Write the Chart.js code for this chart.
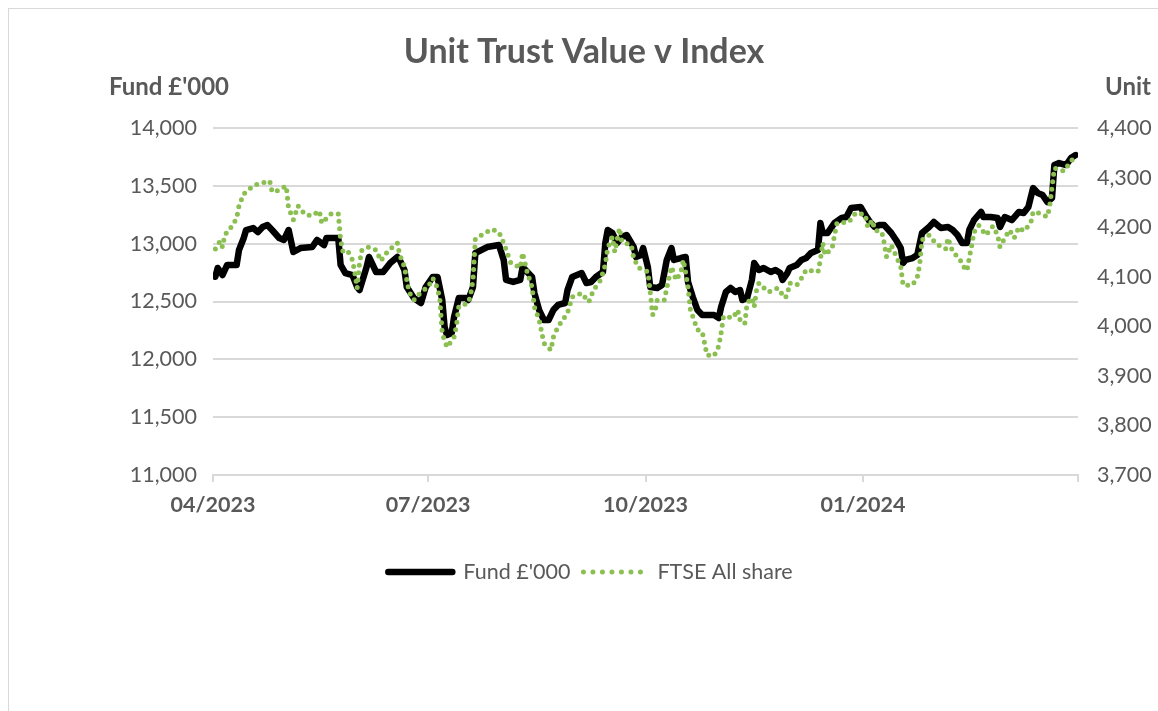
<!DOCTYPE html>
<html><head><meta charset="utf-8">
<script src="https://cdn.jsdelivr.net/npm/chart.js@4.4.1/dist/chart.umd.min.js"></script>
<style>
html,body{margin:0;padding:0;background:#fff;}
#wrap{position:relative;width:1158px;height:711px;overflow:hidden;background:#fff;}
#frame{position:absolute;left:8px;top:8px;width:1200px;height:800px;border:1px solid #d9d9d9;box-sizing:border-box;}
canvas{position:absolute;left:0;top:0;}
</style></head><body>
<div id="wrap"><div id="frame"></div><canvas id="c" width="1158" height="711"></canvas></div>
<script>
const chartTitle = "Unit Trust Value v Index";
const leftAxisTitle = "Fund £'000";
const rightAxisTitle = "Unit";
const seriesNames = ["Fund £'000", "FTSE All share"];
const axisStart = "2023-04-01";
const axisEnd = "2024-04-01";
const tickDates = ["2023-04-01","2023-07-01","2023-10-01","2024-01-01","2024-04-01"];
const tickLabels = ["04/2023","07/2023","10/2023","01/2024",""];

const fundDates = [
"2023-04-02","2023-04-03","2023-04-05","2023-04-07","2023-04-11","2023-04-12","2023-04-14","2023-04-15","2023-04-18","2023-04-20","2023-04-22","2023-04-24","2023-04-26","2023-04-29",
"2023-05-01","2023-05-03","2023-05-05","2023-05-08","2023-05-13","2023-05-15","2023-05-18","2023-05-19","2023-05-24","2023-05-25","2023-05-27","2023-05-30",
"2023-06-01","2023-06-02","2023-06-05","2023-06-06","2023-06-09","2023-06-12","2023-06-15","2023-06-18","2023-06-19","2023-06-21","2023-06-22","2023-06-25","2023-06-28","2023-06-30",
"2023-07-03","2023-07-05","2023-07-07","2023-07-08","2023-07-09","2023-07-11","2023-07-12","2023-07-14","2023-07-17","2023-07-18","2023-07-20","2023-07-21","2023-07-22","2023-07-26","2023-07-31",
"2023-08-02","2023-08-03","2023-08-06","2023-08-09","2023-08-10","2023-08-12","2023-08-14","2023-08-15","2023-08-17","2023-08-19","2023-08-21","2023-08-23","2023-08-25","2023-08-28","2023-08-29","2023-08-31",
"2023-09-04","2023-09-06","2023-09-08","2023-09-10","2023-09-13","2023-09-14","2023-09-15","2023-09-17","2023-09-19","2023-09-21","2023-09-23","2023-09-26","2023-09-27","2023-09-29","2023-09-30",
"2023-10-02","2023-10-03","2023-10-06","2023-10-08","2023-10-10","2023-10-12","2023-10-13","2023-10-16","2023-10-18","2023-10-19","2023-10-21","2023-10-23","2023-10-25","2023-10-30",
"2023-11-01","2023-11-02","2023-11-04","2023-11-06","2023-11-08","2023-11-10","2023-11-11","2023-11-13","2023-11-15","2023-11-16","2023-11-18","2023-11-20","2023-11-23","2023-11-25","2023-11-27","2023-11-28","2023-11-30",
"2023-12-01","2023-12-04","2023-12-06","2023-12-08","2023-12-10","2023-12-13","2023-12-14","2023-12-15","2023-12-17","2023-12-20","2023-12-23","2023-12-25","2023-12-27","2023-12-31",
"2024-01-02","2024-01-04","2024-01-06","2024-01-08","2024-01-10","2024-01-13","2024-01-15","2024-01-17","2024-01-18","2024-01-19","2024-01-22","2024-01-24","2024-01-26","2024-01-29","2024-01-31",
"2024-02-03","2024-02-06","2024-02-08","2024-02-10","2024-02-12","2024-02-14","2024-02-15","2024-02-17","2024-02-20","2024-02-21","2024-02-24","2024-02-27","2024-02-28",
"2024-03-01","2024-03-04","2024-03-07","2024-03-09","2024-03-11","2024-03-13","2024-03-15","2024-03-17","2024-03-19","2024-03-21","2024-03-22","2024-03-24","2024-03-27","2024-03-29","2024-03-31"];
const fundValues = [
12714,12790,12729,12816,12816,12945,13049,13118,13135,13100,13144,13161,13118,13049,
13032,13118,12928,12962,12971,13032,12988,13049,13049,12816,12746,12729,
12625,12599,12798,12885,12755,12755,12833,12885,12859,12772,12625,12530,12487,12625,
12712,12712,12513,12279,12210,12228,12366,12530,12530,12513,12625,12919,12928,12971,12988,
12859,12686,12669,12686,12798,12755,12712,12573,12426,12340,12340,12426,12470,12487,12599,12712,
12746,12660,12669,12712,12755,13006,13118,13092,13006,13058,13075,12971,12885,12900,12962,
12798,12625,12617,12643,12859,12962,12859,12876,12885,12669,12539,12426,12383,12383,
12357,12452,12582,12617,12582,12599,12513,12530,12686,12833,12772,12790,12755,12772,12746,12686,12746,
12790,12816,12859,12876,12919,12945,13179,13092,13092,13179,13222,13230,13308,13317,
13248,13187,13144,13161,13161,13092,13032,12962,12833,12859,12876,12902,13092,13144,13187,
13135,13144,13118,13075,13006,13006,13118,13204,13274,13230,13230,13222,13144,
13230,13204,13274,13265,13317,13481,13438,13421,13360,13395,13680,13697,13680,13740,13766];

const ftseDates = [
"2023-04-02","2023-04-04","2023-04-05","2023-04-06","2023-04-09","2023-04-11","2023-04-12","2023-04-14","2023-04-18","2023-04-20","2023-04-25","2023-04-26","2023-04-28",
"2023-05-02","2023-05-03","2023-05-04","2023-05-05","2023-05-07","2023-05-10","2023-05-13","2023-05-16","2023-05-17","2023-05-21","2023-05-24","2023-05-25","2023-05-26","2023-05-28","2023-05-30","2023-05-31",
"2023-06-01","2023-06-02","2023-06-03","2023-06-06","2023-06-09","2023-06-11","2023-06-14","2023-06-18","2023-06-19","2023-06-21","2023-06-22","2023-06-23","2023-06-25","2023-06-28",
"2023-07-01","2023-07-03","2023-07-05","2023-07-06","2023-07-07","2023-07-09","2023-07-12","2023-07-13","2023-07-14","2023-07-18","2023-07-19","2023-07-20","2023-07-21","2023-07-25","2023-07-28","2023-07-31",
"2023-08-02","2023-08-05","2023-08-09","2023-08-10","2023-08-12","2023-08-14","2023-08-15","2023-08-17","2023-08-19","2023-08-22","2023-08-23","2023-08-25","2023-08-29","2023-08-31",
"2023-09-04","2023-09-07","2023-09-09","2023-09-12","2023-09-14","2023-09-15","2023-09-17","2023-09-18","2023-09-20","2023-09-21","2023-09-25","2023-09-26","2023-09-28",
"2023-10-02","2023-10-03","2023-10-04","2023-10-05","2023-10-06","2023-10-09","2023-10-10","2023-10-11","2023-10-12","2023-10-14","2023-10-16","2023-10-17","2023-10-18","2023-10-19","2023-10-20","2023-10-23","2023-10-25","2023-10-26","2023-10-27","2023-10-30",
"2023-11-01","2023-11-02","2023-11-03","2023-11-07","2023-11-09","2023-11-10","2023-11-12","2023-11-13","2023-11-15","2023-11-16","2023-11-17","2023-11-18","2023-11-22","2023-11-26","2023-11-29","2023-11-30",
"2023-12-01","2023-12-04","2023-12-06","2023-12-08","2023-12-13","2023-12-14","2023-12-15","2023-12-16","2023-12-19","2023-12-20","2023-12-21","2023-12-26","2023-12-29",
"2024-01-02","2024-01-03","2024-01-05","2024-01-06","2024-01-09","2024-01-10","2024-01-11","2024-01-13","2024-01-17","2024-01-18","2024-01-22","2024-01-24","2024-01-25","2024-01-26","2024-01-29",
"2024-02-01","2024-02-05","2024-02-06","2024-02-08","2024-02-11","2024-02-12","2024-02-14","2024-02-15","2024-02-16","2024-02-17","2024-02-19","2024-02-22","2024-02-25","2024-02-27","2024-02-28",
"2024-03-01","2024-03-03","2024-03-05","2024-03-07","2024-03-09","2024-03-12","2024-03-13","2024-03-15","2024-03-19","2024-03-20","2024-03-21","2024-03-22","2024-03-26","2024-03-29","2024-03-31"];
const ftseValues = [
4156,4172,4160,4184,4202,4218,4243,4267,4283,4287,4293,4271,4273,
4283,4237,4227,4215,4243,4225,4223,4233,4208,4227,4227,4174,4150,4152,4134,4108,
4077,4128,4154,4160,4154,4132,4152,4168,4144,4120,4093,4069,4053,4069,
4079,4097,4077,4053,3985,3958,3978,4001,4040,4047,4063,4093,4176,4188,4196,4190,
4168,4128,4118,4148,4108,4079,4039,4013,3966,3952,3978,3999,4027,4059,
4067,4049,4073,4093,4124,4158,4180,4150,4198,4170,4164,4138,4118,
4110,4069,4023,4029,4053,4053,4077,4099,4120,4093,4110,4134,4108,4079,4033,3993,3989,3966,3942,3940,
3960,3987,4020,4017,4033,4013,4005,4047,4057,4039,4073,4087,4069,4077,4057,4063,
4087,4083,4097,4114,4110,4134,4168,4144,4158,4184,4208,4210,4229,
4225,4200,4214,4194,4190,4168,4140,4164,4120,4083,4083,4099,4124,4174,4184,
4166,4156,4178,4150,4136,4124,4112,4138,4162,4190,4204,4184,4202,4184,4160,
4178,4194,4178,4200,4192,4208,4231,4229,4221,4241,4280,4319,4313,4333,4344];

const DAY = 86400000;
const t0 = Date.parse(axisStart);
const dayOf = d => (Date.parse(d) - t0) / DAY;
const tickDays = tickDates.map(dayOf);

const textColor = '#595959';
const gridColor = '#d9d9d9';
const fundColor = '#000000';
const ftseColor = '#8cbf52';
const FONT = 'Lato, "Open Sans", sans-serif';

const textPlugin = {
  id: 'texts',
  afterDraw(chart) {
    const ctx = chart.ctx;
    ctx.save();
    ctx.fillStyle = textColor;
    ctx.textBaseline = 'middle';
    ctx.font = 'bold 34px ' + FONT;
    ctx.textAlign = 'center';
    ctx.fillText(chartTitle, 584, 52);
    ctx.font = 'bold 24px ' + FONT;
    ctx.textAlign = 'left';
    ctx.fillText(leftAxisTitle, 109, 87);
    ctx.textAlign = 'right';
    ctx.fillText(rightAxisTitle, 1151, 87);
    // legend
    ctx.font = '21.5px ' + FONT;
    const w1 = ctx.measureText(seriesNames[0]).width;
    const w2 = ctx.measureText(seriesNames[1]).width;
    const sw = 70, g1 = 8, g2 = 9;
    const total = sw + g1 + w1 + g2 + sw + g1 + w2;
    let x = 589 - total / 2;
    const y = 572;
    ctx.lineCap = 'round';
    ctx.strokeStyle = fundColor; ctx.lineWidth = 6.5; ctx.setLineDash([]);
    ctx.beginPath(); ctx.moveTo(x + 3, y); ctx.lineTo(x + sw - 3, y); ctx.stroke();
    x += sw + g1;
    ctx.textAlign = 'left';
    ctx.fillText(seriesNames[0], x, y);
    x += w1 + g2;
    ctx.strokeStyle = ftseColor; ctx.lineWidth = 5; ctx.setLineDash([0, 9.5]);
    ctx.beginPath(); ctx.moveTo(x + 4, y); ctx.lineTo(x + sw, y); ctx.stroke();
    ctx.setLineDash([]);
    x += sw + g1;
    ctx.fillText(seriesNames[1], x, y);
    ctx.restore();
  }
};

new Chart(document.getElementById('c'), {
  type: 'line',
  data: {
    datasets: [
      {
        label: seriesNames[0],
        data: fundDates.map((d, i) => ({ x: dayOf(d), y: fundValues[i] })),
        borderColor: fundColor,
        borderWidth: 6.5,
        borderJoinStyle: 'round',
        borderCapStyle: 'round',
        pointRadius: 0,
        tension: 0,
        yAxisID: 'y',
        order: 1
      },
      {
        label: seriesNames[1],
        data: ftseDates.map((d, i) => ({ x: dayOf(d), y: ftseValues[i] })),
        borderColor: ftseColor,
        borderWidth: 5,
        borderDash: [0, 7.5],
        borderCapStyle: 'round',
        borderJoinStyle: 'round',
        pointRadius: 0,
        tension: 0,
        yAxisID: 'y1',
        order: 0
      }
    ]
  },
  options: {
    responsive: false,
    animation: false,
    locale: 'en-US',
    layout: { padding: { top: 128, left: 0, right: 0, bottom: 0 } },
    plugins: { legend: { display: false }, title: { display: false }, tooltip: { enabled: false } },
    scales: {
      x: {
        type: 'linear',
        min: dayOf(axisStart),
        max: dayOf(axisEnd),
        afterBuildTicks: s => { s.ticks = tickDays.map(v => ({ value: v })); },
        afterFit: s => { s.height = 236; },
        ticks: {
          autoSkip: false,
          maxRotation: 0,
          padding: 10,
          color: textColor,
          font: { family: FONT, size: 21.5, weight: 'bold' },
          callback: (v, i) => tickLabels[i]
        },
        grid: { drawOnChartArea: false, drawTicks: true, tickLength: 7, color: gridColor, lineWidth: 2 },
        border: { display: true, color: gridColor, width: 2 }
      },
      y: {
        position: 'left',
        min: 11000, max: 14000,
        afterFit: s => { s.width = 213; },
        ticks: {
          stepSize: 500,
          padding: 16,
          color: textColor,
          font: { family: FONT, size: 21.5 },
          callback: v => v.toLocaleString('en-US')
        },
        grid: { color: gridColor, lineWidth: 2, drawTicks: false },
        border: { display: false }
      },
      y1: {
        position: 'right',
        min: 3700, max: 4400,
        afterFit: s => { s.width = 80; },
        ticks: {
          stepSize: 100,
          padding: 19,
          color: textColor,
          font: { family: FONT, size: 21.5 },
          callback: v => v.toLocaleString('en-US')
        },
        grid: { drawOnChartArea: false, drawTicks: false },
        border: { display: false }
      }
    }
  },
  plugins: [textPlugin]
});
</script></body></html>
